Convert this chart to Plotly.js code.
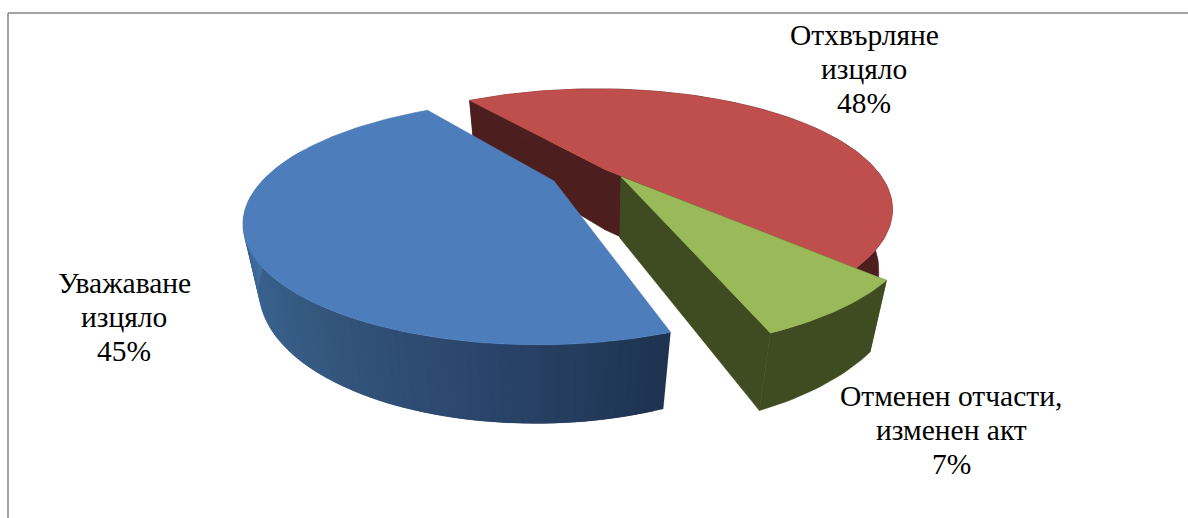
<!DOCTYPE html>
<html><head><meta charset="utf-8">
<script src="https://cdn.plot.ly/plotly-3.0.1.min.js"></script>
<style>html,body{margin:0;padding:0;background:#fff}</style></head>
<body><div id="chart" style="width:1188px;height:518px"></div>
<script>
const categories = [["Отхвърляне","изцяло"], ["Отменен отчасти,","изменен акт"], ["Уважаване","изцяло"]];
const values = [48, 7, 45];
const startAngles = [233, 45.5, 73.5];
const topColors = ["#bf4f4c", "#9aba59", "#4d7ebb"];
const wallColors = ["#4c1f1e", "#3f4b21", "#1e3350"];
const blueWallRamp = ["#1e3350","#2b466c","#34587f","#3c6594","#4777ac"];
const labelX = [864, 951, 124];
const labelY = [35, 396, 283];
const labelStep = 34;
const explodeU = [0, 0.08, 0];
const explodeV = [0, 0.075, 0];
const shiftX = [0, -7, -51];
const shiftY = [-1.5, -2.5, 10];

// perspective of the pie plane
const cx=605, cy=171, A=281, B=108, H=63, k=0.34, j=0.037, m=0.046;
function P(u,v,h,dx,dy){const w=1-k*v+j*u+m*h;return [cx+dx+A*u/w, cy+dy+(B*v+H*h)/w];}
const traces=[];
function poly(pts,color,width){
  traces.push({type:'scatter',mode:'lines',x:pts.map(p=>p[0]).concat(pts[0][0]),y:pts.map(p=>p[1]).concat(pts[0][1]),
    fill:'toself',fillcolor:color,line:{color:color,width:width||0.6},hoverinfo:'skip',showlegend:false});
}
function hex2(c){return [1,3,5].map(i=>parseInt(c.substr(i,2),16));}
function ramp(r,f){const n=r.length-1,s=Math.min(n-1e-6,Math.max(0,f*n)),i=Math.floor(s),t=s-i,a=hex2(r[i]),b=hex2(r[i+1]);
  return 'rgb('+a.map((q,z)=>Math.round(q+(b[z]-q)*t)).join(',')+')';}
values.forEach((val,idx)=>{
  const a0=startAngles[idx], a1=a0+val/100*360, eu=explodeU[idx], ev=explodeV[idx], dx=shiftX[idx], dy=shiftY[idx];
  const N=Math.round((a1-a0)/1.5);
  const rim=(d,h)=>{const t=d*Math.PI/180;return P(eu+Math.cos(t),ev+Math.sin(t),h,dx,dy);};
  const ap=h=>P(eu,ev,h,dx,dy);
  if(idx!==2){
    poly([ap(0),rim(a0,0),rim(a0,1),ap(1)],wallColors[idx]);
    poly([ap(0),rim(a1,0),rim(a1,1),ap(1)],wallColors[idx]);
    const outer=[];
    for(let i=0;i<=N;i++) outer.push(rim(a0+(a1-a0)*i/N,0));
    for(let i=N;i>=0;i--) outer.push(rim(a0+(a1-a0)*i/N,1));
    poly(outer,wallColors[idx]);
  } else {
    // strips overlap the following one so no seams show
    for(let i=0;i<N;i++){
      const d=a0+(a1-a0)*i/N, e=a0+(a1-a0)*(i+2)/N;
      if(d>195) continue;
      poly([rim(d,0),rim(Math.min(e,a1),0),rim(Math.min(e,a1),1),rim(d,1)],ramp(blueWallRamp,(d-a0)/(180-a0)),0.1);
    }
  }
  const top=[ap(0)];
  for(let i=0;i<=N*2;i++) top.push(rim(a0+(a1-a0)*i/(N*2),0));
  poly(top,topColors[idx]);
});
const annotations=[];
categories.forEach((lines,i)=>{
  lines.concat(values[i]+'%').forEach((t,n)=>annotations.push({x:labelX[i],y:labelY[i]+n*labelStep,xref:'x',yref:'y',text:t,showarrow:false,
    xanchor:'center',yanchor:'middle',align:'center',font:{family:'Liberation Serif',size:29.5,color:'#000'}}));
});
Plotly.newPlot('chart',traces,{
  width:1188,height:518,margin:{l:0,r:0,t:0,b:0},paper_bgcolor:'#fff',plot_bgcolor:'#fff',showlegend:false,
  font:{family:'Liberation Serif'},
  xaxis:{range:[0,1188],visible:false,fixedrange:true},
  yaxis:{range:[518,0],visible:false,fixedrange:true},
  annotations,
  shapes:[
    {type:'line',xref:'x',yref:'y',x0:8,x1:8,y0:13,y1:518,line:{color:'#868686',width:1.5}},
    {type:'line',xref:'x',yref:'y',x0:8,x1:1188,y0:13,y1:13,line:{color:'#868686',width:1.5}}
  ]
},{displayModeBar:false,staticPlot:true});
</script></body></html>
